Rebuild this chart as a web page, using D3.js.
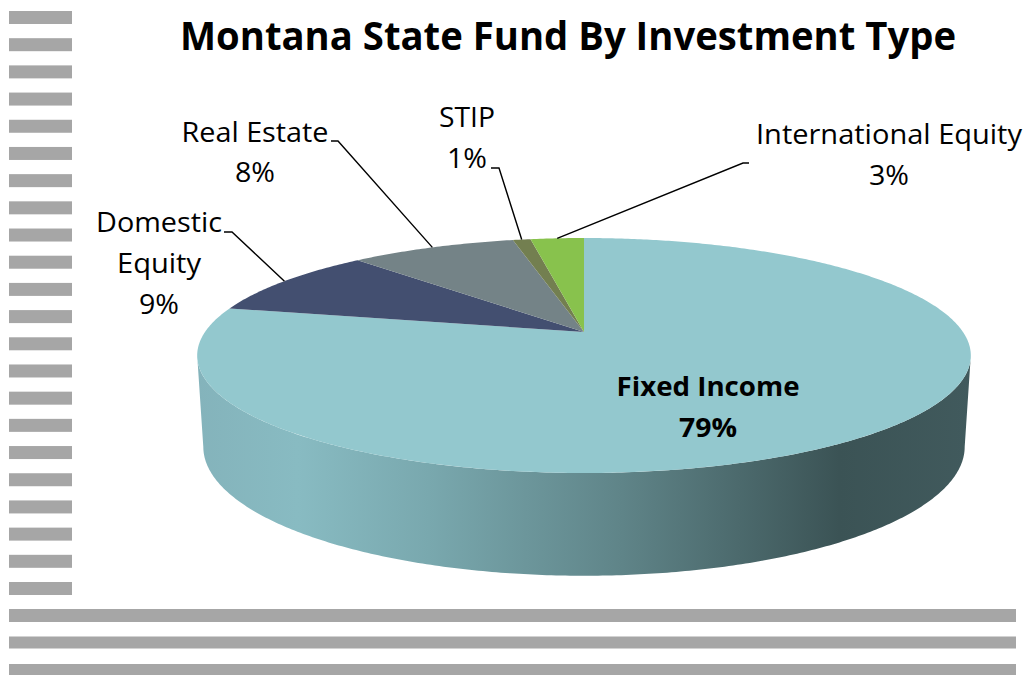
<!DOCTYPE html>
<html>
<head>
<meta charset="utf-8">
<script src="https://cdnjs.cloudflare.com/ajax/libs/d3/7.8.5/d3.min.js"></script>
<style>
html,body{margin:0;padding:0;background:#fff;overflow:hidden}
svg{display:block}
text{font-family:"Open Sans","Noto Sans",sans-serif;fill:#000}
</style>
</head>
<body>
<svg id="chart" width="1028" height="675"></svg>
<script>
const title = "Montana State Fund By Investment Type";
const categories = ["Fixed Income", "Domestic Equity", "Real Estate", "STIP", "International Equity"];
const shares = [78.5, 9.5, 8.4, 0.9, 2.7];
const percentLabels = ["79%", "9%", "8%", "1%", "3%"];
const sliceColors = ["#93c8ce", "#434f70", "#748387", "#737f50", "#88c24d"];
const labelLines = [["Fixed Income", "79%"], ["Domestic", "Equity", "9%"], ["Real Estate", "8%"], ["STIP", "1%"], ["International Equity", "3%"]];

// layout (separate from the data)
const W = 1028, H = 675;
const labelPlace = [
  {x: 708, y: [396, 437], w: [183, 58], size: 27, bold: true},
  {x: 159, y: [232, 273, 314], w: [126, 84, 40], size: 28},
  {x: 255, y: [142, 182], w: [147, 40], size: 28},
  {x: 467, y: [127, 168], w: [56, 40], size: 28},
  {x: 889, y: [144, 185], w: [266, 40], size: 28}
];
const elbows = [null, [[224, 232], [232, 232]], [[331, 141], [338, 141]], [[491, 168], [499, 168]], [[749, 163], [743, 163]]];
const topFace = {cx: 584, cy: 332, rx: 379, ry: 112.8, k: 0.2};
const baseFace = {cx: 584, cy: 421, rx: 373, ry: 123.8, k: 0.2};

const svg = d3.select("#chart");
const defs = svg.append("defs");

// decorative grey rules
const shortRows = d3.range(22), longRows = d3.range(3);
const shortY = d3.scaleLinear().domain([0, 21]).range([11, 582]);
const longY = d3.scaleLinear().domain([0, 2]).range([609, 664]);
svg.append("g").selectAll("rect").data(shortRows).join("rect")
  .attr("x", 9).attr("width", 63).attr("y", d => shortY(d)).attr("height", 13).attr("fill", "#a6a6a6");
svg.append("g").selectAll("rect").data(longRows).join("rect")
  .attr("x", 9).attr("width", 1007).attr("y", d => longY(d)).attr("height", d => d === 1 ? 12 : 13).attr("fill", "#a6a6a6");

// perspective projection of the pie disc (angle 0 = back, clockwise)
function project(f, a) {
  const u = Math.sin(a), v = Math.cos(a), w = 1 + f.k * v;
  return [f.cx + f.rx * u / w, f.cy - f.ry * v / w];
}
const lineGen = d3.line();
const arcPts = (f, a0, a1) => {
  const n = Math.max(2, Math.ceil(Math.abs(a1 - a0) / 0.01));
  return d3.range(n + 1).map(i => project(f, a0 + (a1 - a0) * i / n));
};

const pie = d3.pie().sort(null).value(d => d);
const arcs = pie(shares);

// side wall
const grad = defs.append("linearGradient").attr("id", "wall")
  .attr("gradientUnits", "userSpaceOnUse").attr("x1", 197).attr("x2", 971).attr("y1", 0).attr("y2", 0);
[[0, "#84b3bb"], [0.13, "#88bbc2"], [0.3, "#79a8ae"], [0.55, "#5f8488"], [0.83, "#3b5355"], [1, "#415a5d"]]
  .forEach(([o, c]) => grad.append("stop").attr("offset", o).attr("stop-color", c));
const ext = Math.acos(-topFace.k);
const wallPts = [project(topFace, ext)]
  .concat(arcPts(baseFace, Math.acos(-baseFace.k), 2 * Math.PI - Math.acos(-baseFace.k)))
  .concat(arcPts(topFace, 2 * Math.PI - ext, ext));
svg.append("path").attr("d", lineGen(wallPts) + "Z").attr("fill", "url(#wall)");

// top face
svg.append("g").selectAll("path").data(arcs).join("path")
  .attr("d", d => lineGen([[topFace.cx, topFace.cy]].concat(arcPts(topFace, d.startAngle, d.endAngle))) + "Z")
  .attr("fill", (d, i) => sliceColors[i]);

// leader lines
svg.append("g").selectAll("path").data(arcs.filter((d, i) => elbows[i])).join("path")
  .attr("d", d => lineGen(elbows[d.index].concat([project(topFace, (d.startAngle + d.endAngle) / 2)])))
  .attr("fill", "none").attr("stroke", "#000").attr("stroke-width", 1.4);

// labels
svg.append("text").attr("x", 568).attr("y", 50).attr("text-anchor", "middle")
  .attr("font-size", 40).attr("font-weight", 700)
  .attr("textLength", 776).attr("lengthAdjust", "spacingAndGlyphs").text(title);

labelLines.forEach((lines, i) => {
  const p = labelPlace[i];
  lines.forEach((t, j) => {
    svg.append("text").attr("x", p.x).attr("y", p.y[j]).attr("text-anchor", "middle")
      .attr("font-size", p.size).attr("font-weight", p.bold ? 700 : 400)
      .attr("textLength", p.w[j]).attr("lengthAdjust", "spacingAndGlyphs").text(t);
  });
});
</script>
</body>
</html>
